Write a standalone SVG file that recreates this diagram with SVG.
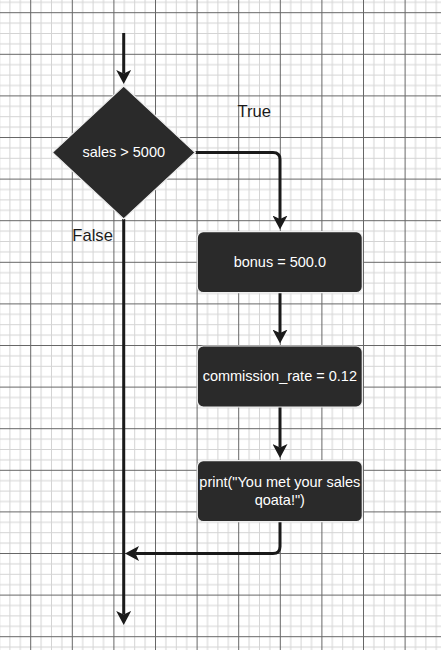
<svg xmlns="http://www.w3.org/2000/svg" width="441" height="650" viewBox="0 0 441 650">
  <defs>
    <pattern id="grid" patternUnits="userSpaceOnUse" x="30.2" y="12.2" width="41.6" height="41.6">
      <rect x="10.4" y="0" width="1" height="41.6" fill="#d4d4d4"/>
      <rect x="20.8" y="0" width="1" height="41.6" fill="#d4d4d4"/>
      <rect x="31.2" y="0" width="1" height="41.6" fill="#d4d4d4"/>
      <rect x="0" y="10.4" width="41.6" height="1" fill="#d4d4d4"/>
      <rect x="0" y="20.8" width="41.6" height="1" fill="#d4d4d4"/>
      <rect x="0" y="31.2" width="41.6" height="1" fill="#d4d4d4"/>
      <rect x="0" y="0" width="1" height="41.6" fill="#666666"/>
      <rect x="0" y="0" width="41.6" height="1" fill="#666666"/>
    </pattern>
    <marker id="arrow" markerUnits="userSpaceOnUse" viewBox="0 0 14 15" refX="3.5" refY="7.5" markerWidth="14" markerHeight="15" orient="auto">
      <path d="M0,0 L14,7.5 L0,15 L3.5,7.5 Z" fill="#1a1a1a"/>
    </marker>
    <style>
      .shape { fill: #2a2a2a; stroke: #eeeeee; stroke-width: 1.2; }
      .node-text { font-family: "Liberation Sans", Arial, sans-serif; font-size: 14.5px; fill: #ffffff; text-anchor: middle; }
      .label { font-family: "Liberation Sans", Arial, sans-serif; font-size: 16.6px; fill: #1a1a1a; }
      .edge { fill: none; stroke: #1a1a1a; stroke-width: 3; marker-end: url(#arrow); }
    </style>
  </defs>
  <rect x="0" y="0" width="441" height="650" fill="#ffffff"/>
  <rect x="0" y="0" width="441" height="650" fill="url(#grid)"/>

  <g id="connectors">
    <path class="edge" d="M123.7,33 V73.5"/>
    <path class="edge" d="M195.5,152.5 H273 Q280,152.5 280,159.5 V219"/>
    <path class="edge" d="M280,293 V333"/>
    <path class="edge" d="M280,407 V447.5"/>
    <path class="edge" d="M280,521.5 V546.5 Q280,553.5 273,553.5 H135.5"/>
    <path class="edge" d="M123.7,219 V614.5"/>
  </g>

  <g id="decision">
    <polygon class="shape" points="123.7,86 195.2,152.5 123.7,219 52.3,152.5"/>
    <text class="node-text" x="123.7" y="157">sales &gt; 5000</text>
  </g>

  <g id="label-true">
    <text class="label" x="237.5" y="116.7">True</text>
  </g>
  <g id="label-false">
    <text class="label" x="72.3" y="240.7">False</text>
  </g>

  <g id="bonus">
    <rect class="shape" x="197.3" y="231.7" width="165" height="61" rx="6" ry="6"/>
    <text class="node-text" x="279.8" y="267">bonus = 500.0</text>
  </g>

  <g id="commission">
    <rect class="shape" x="197.3" y="346" width="165" height="61" rx="6" ry="6"/>
    <text class="node-text" x="279.8" y="381">commission_rate = 0.12</text>
  </g>

  <g id="print">
    <rect class="shape" x="197.3" y="460.7" width="165" height="61" rx="6" ry="6"/>
    <text class="node-text" x="279.8" y="487.3">print("You met your sales</text>
    <text class="node-text" x="279.8" y="505">qoata!")</text>
  </g>
</svg>
